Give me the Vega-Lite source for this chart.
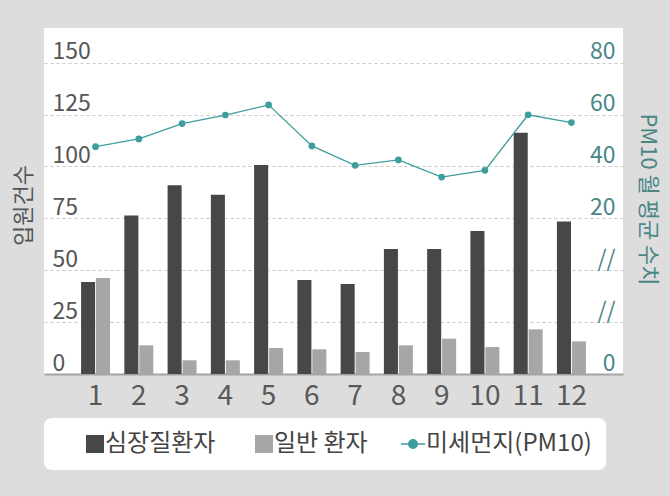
{
  "$schema": "https://vega.github.io/schema/vega-lite/v6.json",
  "description": "월별 입원건수와 미세먼지(PM10)",
  "width": 579,
  "height": 346,
  "autosize": "none",
  "padding": {"left": 44, "top": 28, "right": 47, "bottom": 122},
  "background": "#dddddd",
  "config": {
    "font": "Noto Sans CJK KR",
    "view": {"fill": "white", "stroke": null}
  },
  "datasets": {
    "bars": [
      {"month": 1, "series": "심장질환자", "count": 44.3},
      {"month": 1, "series": "일반 환자", "count": 46.2},
      {"month": 2, "series": "심장질환자", "count": 76.4},
      {"month": 2, "series": "일반 환자", "count": 13.8},
      {"month": 3, "series": "심장질환자", "count": 90.9},
      {"month": 3, "series": "일반 환자", "count": 6.6},
      {"month": 4, "series": "심장질환자", "count": 86.4},
      {"month": 4, "series": "일반 환자", "count": 6.6},
      {"month": 5, "series": "심장질환자", "count": 100.7},
      {"month": 5, "series": "일반 환자", "count": 12.5},
      {"month": 6, "series": "심장질환자", "count": 45.3},
      {"month": 6, "series": "일반 환자", "count": 11.9},
      {"month": 7, "series": "심장질환자", "count": 43.4},
      {"month": 7, "series": "일반 환자", "count": 10.6},
      {"month": 8, "series": "심장질환자", "count": 60.2},
      {"month": 8, "series": "일반 환자", "count": 13.8},
      {"month": 9, "series": "심장질환자", "count": 60.2},
      {"month": 9, "series": "일반 환자", "count": 17.0},
      {"month": 10, "series": "심장질환자", "count": 68.9},
      {"month": 10, "series": "일반 환자", "count": 13.0},
      {"month": 11, "series": "심장질환자", "count": 116.2},
      {"month": 11, "series": "일반 환자", "count": 21.5},
      {"month": 12, "series": "심장질환자", "count": 73.4},
      {"month": 12, "series": "일반 환자", "count": 15.7}
    ],
    "pm": [
      {"month": 1, "pm10": 47.6},
      {"month": 2, "pm10": 50.6},
      {"month": 3, "pm10": 56.5},
      {"month": 4, "pm10": 59.8},
      {"month": 5, "pm10": 63.7},
      {"month": 6, "pm10": 47.9},
      {"month": 7, "pm10": 40.4},
      {"month": 8, "pm10": 42.5},
      {"month": 9, "pm10": 35.9},
      {"month": 10, "pm10": 38.5},
      {"month": 11, "pm10": 59.9},
      {"month": 12, "pm10": 56.9}
    ]
  },
  "encoding": {
    "x": {
      "field": "month",
      "type": "ordinal",
      "scale": {"paddingInner": 0.33, "paddingOuter": 0.857},
      "axis": {
        "title": null,
        "labelAngle": 0,
        "labelFontSize": 28,
        "labelColor": "#595959",
        "labelPadding": 8,
        "ticks": false,
        "domainColor": "#a3a3a3",
        "domainWidth": 2
      }
    }
  },
  "layer": [
    {
      "data": {"name": "bars"},
      "mark": {"type": "bar"},
      "encoding": {
        "xOffset": {
          "field": "series",
          "sort": ["심장질환자", "일반 환자"],
          "scale": {"paddingInner": 0.06}
        },
        "y": {
          "field": "count",
          "type": "quantitative",
          "scale": {"domain": [0, 166.67], "nice": false, "zero": true},
          "axis": {
            "values": [0, 25, 50, 75, 100, 125, 150],
            "grid": true,
            "gridDash": [3, 3],
            "gridColor": "#c9c9c9",
            "domain": false,
            "ticks": false,
            "tickSize": 0,
            "labelAlign": "left",
            "labelPadding": -8,
            "labelBaseline": "alphabetic",
            "labelOffset": -4,
            "labelFontSize": 23,
            "labelColor": "#555555",
            "title": "입원건수",
            "titleFontSize": 22,
            "titleFontWeight": "normal",
            "titleColor": "#555555",
            "titleAngle": -90,
            "titleAlign": "center",
            "titleBaseline": "middle",
            "titleX": -21,
            "titleY": 177
          }
        },
        "color": {
          "field": "series",
          "type": "nominal",
          "scale": {
            "domain": ["심장질환자", "일반 환자", "미세먼지(PM10)"],
            "range": ["#474747", "#a6a6a6", "#3e9d9d"]
          },
          "legend": {
            "orient": "none",
            "legendX": 0,
            "legendY": 390,
            "direction": "horizontal",
            "title": null,
            "fillColor": "white",
            "strokeColor": null,
            "cornerRadius": 8,
            "padding": 14,
            "symbolSize": 576,
            "symbolOffset": 22,
            "columnPadding": 11,
            "labelOffset": 1,
            "labelFontSize": 24,
            "labelColor": "#444444",
            "labelLimit": 300,
            "labelExpr": "datum.label == '미세먼지(PM10)' ? datum.label + '\u00a0\u00a0' : datum.label",
            "encode": {
              "symbols": {
                "update": {
                  "shape": {"signal": "datum.value === '미세먼지(PM10)' ? 'M-1,0H1M0.35,0A0.35,0.35,0,1,1,-0.35,0A0.35,0.35,0,1,1,0.35,0' : 'M-0.5,-0.75H1V0.75H-0.5Z'"},
                  "strokeWidth": {"signal": "datum.value === '미세먼지(PM10)' ? 1.5 : 0"},
                  "opacity": {"value": 1}
                }
              }
            }
          }
        }
      }
    },
    {
      "data": {"name": "pm"},
      "mark": {
        "type": "line",
        "strokeWidth": 1.3,
        "point": {"filled": true, "size": 45}
      },
      "encoding": {
        "y": {
          "field": "pm10",
          "type": "quantitative",
          "scale": {"domain": [-40, 93.33], "nice": false, "zero": false},
          "axis": {
            "orient": "right",
            "values": [-40, -20, 0, 20, 40, 60, 80],
            "labelExpr": "datum.value == -40 ? '0' : (datum.value <= 0 ? '//' : datum.label)",
            "grid": false,
            "domain": false,
            "ticks": false,
            "tickSize": 0,
            "labelAlign": "right",
            "labelPadding": -8,
            "labelBaseline": "alphabetic",
            "labelOffset": -4,
            "labelFontSize": 23,
            "labelColor": "#4b8686",
            "title": "PM10 월 평균 수치",
            "titleFontSize": 22,
            "titleFontWeight": "normal",
            "titleColor": "#4b8686",
            "titleAngle": 90,
            "titleAlign": "center",
            "titleBaseline": "middle",
            "titleX": 24,
            "titleY": 171
          }
        },
        "color": {"datum": "미세먼지(PM10)"}
      }
    }
  ],
  "resolve": {"scale": {"y": "independent"}}
}
